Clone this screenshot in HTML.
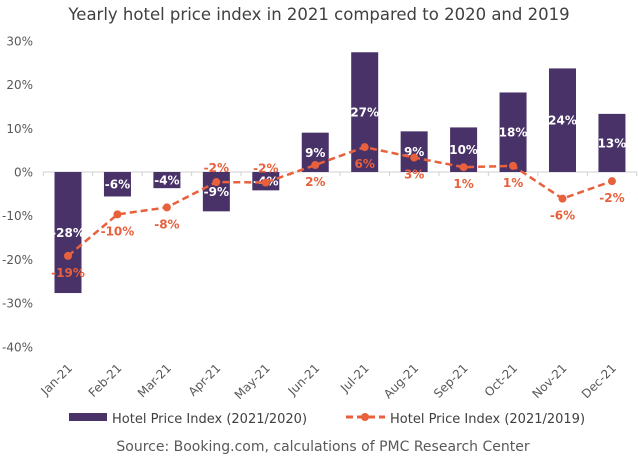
<!DOCTYPE html>
<html><head><meta charset="utf-8"><style>
body{margin:0;background:#fff;}
svg{display:block;font-family:"DejaVu Sans","Liberation Sans",sans-serif;}
</style></head><body>
<svg id="c" width="638" height="459">
<text x="319" y="20" text-anchor="middle" font-size="16.5" fill="#404040">Yearly hotel price index in 2021 compared to 2020 and 2019</text>
<g id="yaxis"></g>
<g id="bars"></g>
<g id="line"></g>
<g id="xaxis"></g>
<g>
<rect x="69" y="413" width="38" height="8" fill="#483268"/>
<text x="112" y="423" font-size="13" fill="#404040">Hotel Price Index (2021/2020)</text>
<line x1="346" y1="417" x2="385" y2="417" stroke="#e8603c" stroke-width="3" stroke-dasharray="7,4"/>
<circle cx="365" cy="417" r="4" fill="#e8603c"/>
<text x="390" y="423" font-size="13" fill="#404040">Hotel Price Index (2021/2019)</text>
</g>
<text x="323" y="451" text-anchor="middle" font-size="14" fill="#595959">Source:  Booking.com, calculations of PMC Research Center</text>
</svg>
<script>
const categories=["Jan-21","Feb-21","Mar-21","Apr-21","May-21","Jun-21","Jul-21","Aug-21","Sep-21","Oct-21","Nov-21","Dec-21"];
const barValues=[-27.7,-5.6,-3.7,-9,-4.2,9,27.4,9.3,10.2,18.2,23.7,13.3];
const barLabels=["-28%","-6%","-4%","-9%","-4%","9%","27%","9%","10%","18%","24%","13%"];
const lineValues=[-19.2,-9.7,-8.1,-2.3,-2.4,1.6,5.7,3.3,1.1,1.4,-6.1,-2.1];
const lineLabels=["-19%","-10%","-8%","-2%","-2%","2%","6%","3%","1%","1%","-6%","-2%"];
const lineLabelAbove=[false,false,false,true,true,false,false,false,false,false,false,false];
const yTicks=[30,20,10,0,-10,-20,-30,-40];
const yTickLabels=["30%","20%","10%","0%","-10%","-20%","-30%","-40%"];
const NS="http://www.w3.org/2000/svg";
const y=v=>172-v*4.37;
const x=i=>68+i*49.45;
function mk(tag,attrs,parent,txt){const e=document.createElementNS(NS,tag);for(const k in attrs)e.setAttribute(k,attrs[k]);if(txt!==undefined)e.textContent=txt;parent.appendChild(e);return e;}
const ya=document.getElementById('yaxis'),bg=document.getElementById('bars'),lg=document.getElementById('line'),xa=document.getElementById('xaxis');
yTicks.forEach((t,i)=>{const e=mk('text',{x:33,y:y(t)+4.5,'text-anchor':'end','font-size':12,fill:'#595959'},ya,yTickLabels[i]);

});
const zl=mk('line',{x1:43,x2:637,y1:y(0),y2:y(0),stroke:'#d0d0d0','stroke-width':1},ya);


for(let i=0;i<=12;i++){const t=mk('line',{x1:x(i)-24.7,x2:x(i)-24.7,y1:y(0),y2:y(0)+4,stroke:'#d0d0d0'},ya);

}
categories.forEach((c,i)=>{
const v=barValues[i];const top=Math.min(y(v),y(0)),h=Math.abs(y(v)-y(0));
const r=mk('rect',{x:x(i)-13.5,y:top,width:27,height:h,fill:'#483268'},bg);


const bl=mk('text',{x:x(i),y:top+h/2+4.5,'text-anchor':'middle','font-size':12,'font-weight':'bold',fill:'#fff'},bg,barLabels[i]);


const xl=mk('text',{x:0,y:0,'text-anchor':'end','font-size':12,fill:'#595959',transform:`translate(${x(i)+5},${y(-40)+22}) rotate(-45)`},xa,c);


});
const pts=lineValues.map((v,i)=>x(i)+','+y(v)).join(' ');
const pl=mk('polyline',{points:pts,fill:'none',stroke:'#e8603c','stroke-width':2.5,'stroke-dasharray':'7,4'},lg);


lineValues.forEach((v,i)=>{
const p=mk('circle',{cx:x(i),cy:y(v),r:4,fill:'#e8603c'},lg);


const ty=lineLabelAbove[i]?y(v)-10:y(v)+21;
const l=mk('text',{x:x(i),y:ty,'text-anchor':'middle','font-size':12,'font-weight':'bold',fill:'#e8603c'},lg,lineLabels[i]);


});
</script>
</body></html>
